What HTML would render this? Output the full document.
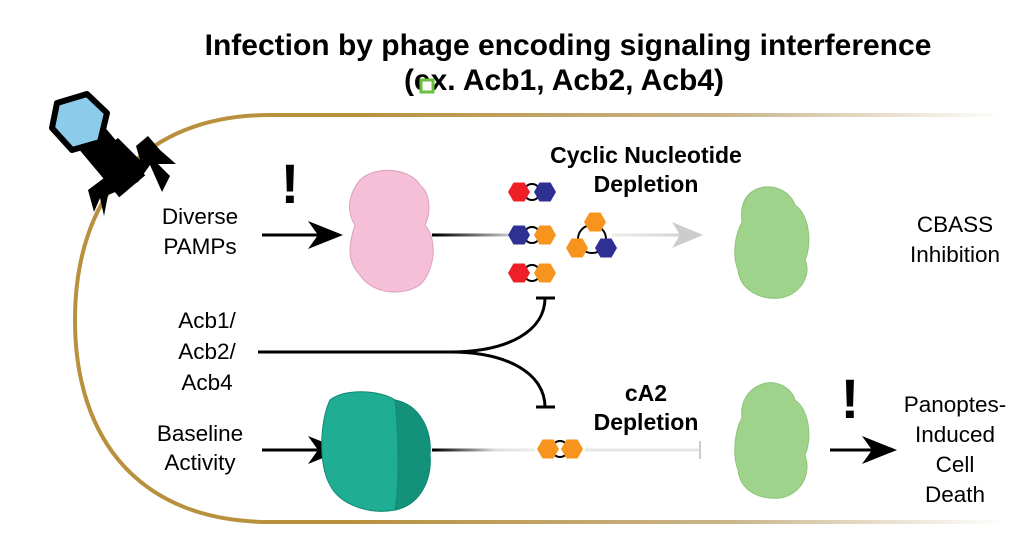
<!DOCTYPE html>
<html><head><meta charset="utf-8"><style>
body{margin:0;background:#fff;}
svg{display:block;font-family:"Liberation Sans",Arial,sans-serif;}
</style></head><body>
<svg width="1012" height="536" viewBox="0 0 1012 536">
<defs>
<linearGradient id="gold" gradientUnits="userSpaceOnUse" x1="75" y1="0" x2="1005" y2="0">
<stop offset="0" stop-color="#b8913e"/><stop offset="0.3" stop-color="#b8913e"/><stop offset="0.7" stop-color="#c9b48a"/><stop offset="1" stop-color="#ffffff"/></linearGradient>
<linearGradient id="fadeA" gradientUnits="userSpaceOnUse" x1="435" y1="0" x2="510" y2="0">
<stop offset="0" stop-color="#000"/><stop offset="1" stop-color="#ccc"/></linearGradient>
<linearGradient id="fadeB" gradientUnits="userSpaceOnUse" x1="610" y1="0" x2="700" y2="0">
<stop offset="0" stop-color="#eee"/><stop offset="1" stop-color="#ccc"/></linearGradient>
<linearGradient id="fadeC" gradientUnits="userSpaceOnUse" x1="435" y1="0" x2="535" y2="0">
<stop offset="0" stop-color="#000"/><stop offset="0.6" stop-color="#ddd"/><stop offset="1" stop-color="#eee"/></linearGradient>
<polygon id="h" points="-11,0 -5.5,-9.5 5.5,-9.5 11,0 5.5,9.5 -5.5,9.5"/>
</defs>

<path d="M1005,115 L270,115 C140,115 75,200 75,320 C75,440 140,522 270,522 L1005,522" fill="none" stroke="url(#gold)" stroke-width="4"/>

<!-- phage -->
<g>
<polygon points="140,160 118,138 100,152 122,176 115,186 104,178 88,190 94,212 100,198 104,216 108,195 120,190 138,182 150,165 162,192 170,176 158,164 176,164 160,150 148,136 136,146" fill="#000"/>
<rect x="94" y="128" width="34" height="66" transform="rotate(-40 111 161)" fill="#000"/>
<polygon points="57,103 87,94 107,113 100,142 72,150 52,128" fill="#8ccbea" stroke="#000" stroke-width="6" stroke-linejoin="round"/>
</g>

<text x="568" y="55" font-size="30" font-weight="bold" text-anchor="middle">Infection by phage encoding signaling interference</text>
<text x="564" y="90" font-size="30" font-weight="bold" text-anchor="middle">(ex. Acb1, Acb2, Acb4)</text>
<rect x="421" y="80" width="12" height="12" fill="#fff" stroke="#6bbf3f" stroke-width="3"/>

<g font-size="22.5" text-anchor="middle">
<text x="200" y="224">Diverse</text><text x="200" y="254">PAMPs</text>
<text x="207" y="328">Acb1/</text><text x="207" y="359">Acb2/</text><text x="207" y="390">Acb4</text>
<text x="200" y="441">Baseline</text><text x="200" y="470">Activity</text>
<text x="955" y="232">CBASS</text><text x="955" y="262">Inhibition</text>
<text x="955" y="412">Panoptes-</text><text x="955" y="442">Induced</text><text x="955" y="472">Cell</text><text x="955" y="502">Death</text>
</g>
<g font-size="23" font-weight="bold" text-anchor="middle">
<text x="646" y="163">Cyclic Nucleotide</text><text x="646" y="192">Depletion</text>
<text x="646" y="401">cA2</text><text x="646" y="430">Depletion</text>
</g>
<text x="290" y="203" font-size="56" font-weight="bold" text-anchor="middle">!</text>
<text x="850" y="418" font-size="56" font-weight="bold" text-anchor="middle">!</text>

<!-- arrows -->
<line x1="262" y1="235" x2="318" y2="235" stroke="#000" stroke-width="3"/>
<polygon points="343,235 308,221 318,235 308,249" fill="#000"/>
<line x1="262" y1="450" x2="318" y2="450" stroke="#000" stroke-width="3"/>
<polygon points="343,450 308,436 318,450 308,464" fill="#000"/>
<line x1="830" y1="450" x2="872" y2="450" stroke="#000" stroke-width="3"/>
<polygon points="897,450 862,436 872,450 862,464" fill="#000"/>
<line x1="432" y1="235" x2="508" y2="235" stroke="url(#fadeA)" stroke-width="3"/>
<line x1="612" y1="235" x2="680" y2="235" stroke="url(#fadeB)" stroke-width="3"/>
<polygon points="703,235 672,222 680,235 672,248" fill="#ccc"/>
<line x1="432" y1="450" x2="535" y2="450" stroke="url(#fadeC)" stroke-width="3"/>
<line x1="585" y1="450" x2="700" y2="450" stroke="#e6e6e6" stroke-width="3"/>
<line x1="700" y1="441" x2="700" y2="459" stroke="#ccc" stroke-width="2"/>

<!-- Acb inhibition -->
<path d="M258,352 L450,352 C510,352 545,330 545,298" fill="none" stroke="#000" stroke-width="3"/>
<path d="M450,352 C510,352 545,375 545,407" fill="none" stroke="#000" stroke-width="3"/>
<line x1="536" y1="298" x2="555" y2="298" stroke="#000" stroke-width="3"/>
<line x1="536" y1="407" x2="555" y2="407" stroke="#000" stroke-width="3"/>

<!-- nucleotides -->
<g stroke="#000" stroke-width="2" fill="none">
<circle cx="532" cy="192" r="8"/><circle cx="532" cy="235" r="8"/><circle cx="532" cy="273" r="8"/>
<circle cx="592" cy="239" r="14"/><circle cx="560" cy="449" r="8"/>
</g>
<use href="#h" x="519" y="192" fill="#ee1f26"/><use href="#h" x="545" y="192" fill="#2e3192"/>
<use href="#h" x="519" y="235" fill="#2e3192"/><use href="#h" x="545" y="235" fill="#f7941d"/>
<use href="#h" x="519" y="273" fill="#ee1f26"/><use href="#h" x="545" y="273" fill="#f7941d"/>
<use href="#h" x="595" y="222" fill="#f7941d"/><use href="#h" x="577" y="248" fill="#f7941d"/><use href="#h" x="606" y="248" fill="#2e3192"/>
<use href="#h" x="548" y="449" fill="#f7941d"/><use href="#h" x="572" y="449" fill="#f7941d"/>

<!-- proteins -->
<g fill="#f6bfd8" stroke="#d9a0ba" stroke-width="1">
<path d="M360,180 C375,165 410,168 420,185 C432,195 430,215 425,225 C438,240 435,270 420,285 C400,298 370,292 360,275 C345,260 350,240 355,225 C345,210 350,192 360,180Z"/>
</g>
<g fill="#9fd38b" stroke="#8cc479" stroke-width="1">
<path d="M755,190 C770,182 790,190 795,205 C810,215 812,245 805,260 C812,275 800,295 780,298 C760,300 740,290 738,270 C732,255 735,235 742,222 C740,205 745,195 755,190Z"/>
<path d="M760,385 C775,378 792,388 795,400 C810,410 812,440 805,455 C812,475 800,495 780,498 C758,500 740,490 738,470 C732,455 735,430 742,418 C740,402 748,390 760,385Z"/>
</g>
<g stroke="#118a73" stroke-width="1">
<path d="M330,400 C345,388 380,390 395,400 C420,405 432,430 430,455 C432,480 420,505 395,510 C370,515 340,505 330,485 C318,465 320,420 330,400Z" fill="#1fae93"/>
<path d="M395,400 C420,405 432,430 430,455 C432,480 420,505 395,510 C400,480 398,430 395,400Z" fill="#13917a"/>
</g>
</svg>
</body></html>
